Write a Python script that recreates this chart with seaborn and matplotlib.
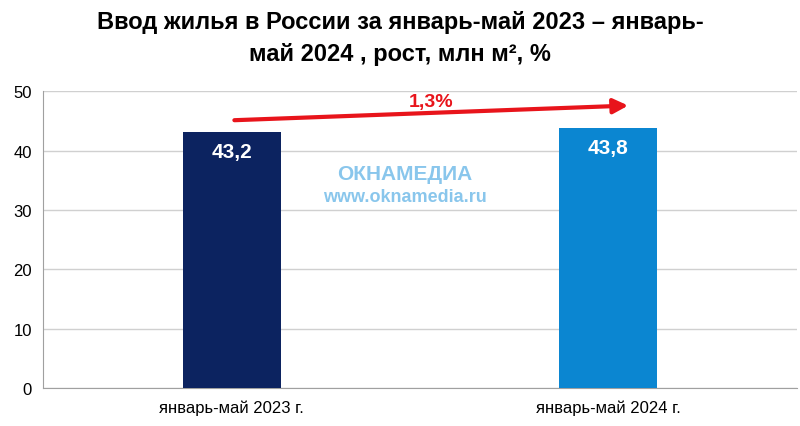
import matplotlib
matplotlib.use("Agg")
import matplotlib.pyplot as plt
import seaborn as sns
import pandas as pd

categories = ["январь-май 2023 г.", "январь-май 2024 г."]
values = [43.2, 43.8]
labels = ["43,2", "43,8"]
growth_label = "1,3%"
colors = ["#0c2360", "#0b86d1"]

plt.rcParams["font.family"] = "Liberation Sans"
fig = plt.figure(figsize=(8, 4.27), dpi=100)
ax = fig.add_axes([0.054, 0.089, 0.942, 0.695])
df = pd.DataFrame({"cat": categories, "val": values})
sns.barplot(data=df, x="cat", y="val", hue="cat", palette=colors, width=0.26,
            saturation=1, legend=False, ax=ax, zorder=3)
ax.set_xlim(-0.5, 1.5)
ax.set_ylim(0, 50)
ax.set_yticks(range(0, 51, 10))
ax.grid(axis="y", color="#d0d0d0", linewidth=1, zorder=0)
ax.set_axisbelow(True)
for s in ["top", "right"]:
    ax.spines[s].set_visible(False)
for s in ["left", "bottom"]:
    ax.spines[s].set_color("#a0a0a0")
ax.tick_params(axis="both", labelsize=12, length=0, pad=8)
ax.set_xlabel("")
ax.set_ylabel("")
for i, (v, l) in enumerate(zip(values, labels)):
    ax.text(i, v - 3.3, l, ha="center", va="center", color="white",
            fontsize=15, fontweight="bold", zorder=5)
ax.annotate("", xy=(1.06, 47.6), xytext=(0.0, 45.1),
            arrowprops=dict(arrowstyle="-|>", color="#e8141b", lw=3,
                            mutation_scale=22), zorder=6)
ax.text(0.53, 48.3, growth_label, ha="center", va="center", color="#e8141b",
        fontsize=14, fontweight="bold")
ax.text(0.46, 36.2, "ОКНАМЕДИА", ha="center", va="center", color="#7cc0ea",
        fontsize=15, fontweight="bold", alpha=0.9)
ax.text(0.46, 32.2, "www.oknamedia.ru", ha="center", va="center", color="#7cc0ea",
        fontsize=13, fontweight="bold", alpha=0.9)
fig.suptitle("Ввод жилья в России за январь-май 2023 – январь-\nмай 2024 , рост, млн м², %",
             fontsize=17, fontweight="bold", y=0.975, linespacing=1.5)
fig.savefig("out.png", dpi=100)
